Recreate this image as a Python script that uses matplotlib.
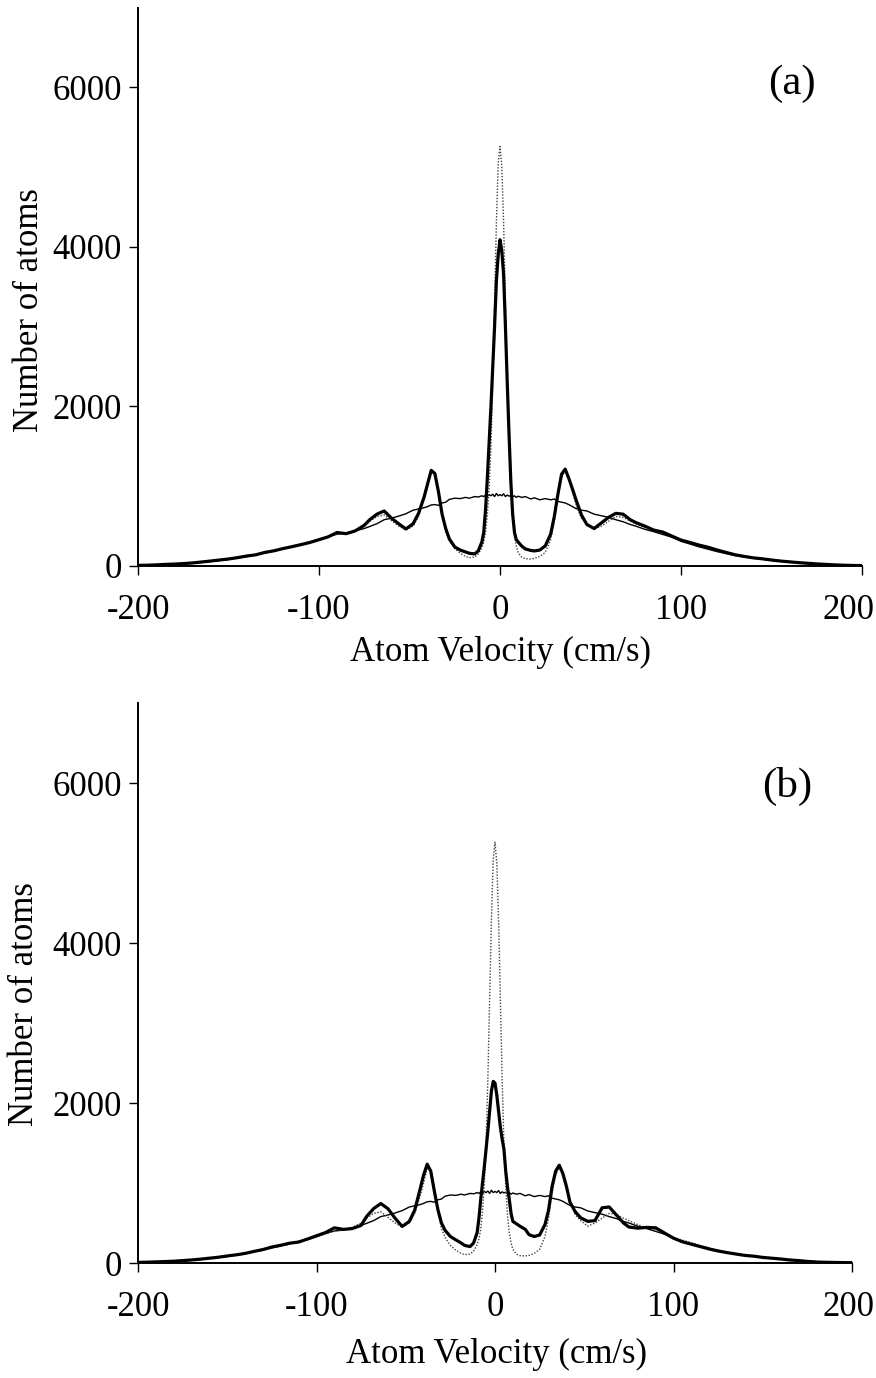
import numpy as np
import matplotlib
matplotlib.use("Agg")
import matplotlib.pyplot as plt
import matplotlib.transforms as mtransforms

# velocity grid (cm/s), finer around the peaks
velocity = [
    -200, -195, -190, -185, -180, -175, -170, -165, -160, -155, -150, -145, -140,
    -135, -130, -125, -120, -115, -110, -105, -100, -95, -90, -85, -80, -75,
    -72, -68, -64, -60, -56, -52, -48, -45, -42, -40, -38, -36, -34, -32, -30,
    -28, -25, -22, -19, -17,
    -14, -12, -10, -9, -8, -7, -6, -5, -4, -3, -2, -1, 0, 1, 2, 3, 4, 5, 6, 7,
    8, 9, 10, 12, 14,
    17, 19, 22, 25, 28, 30, 32, 34, 36, 38, 40, 42, 45, 48, 52, 56, 60, 64, 68, 72,
    75, 80, 85, 90, 95, 100, 105, 110, 115, 120, 125, 130, 135, 140, 145, 150,
    155, 160, 165, 170, 175, 180, 185, 190, 195, 200,
]

# thin line: broad distribution
thin = [
    5, 8, 12, 16, 20, 28, 35, 45, 58, 70, 82, 100, 118,
    140, 162, 190, 215, 240, 270, 300, 335, 370, 400, 415, 440, 470,
    495, 530, 580, 600, 625, 655, 700, 715, 730, 745, 765, 770, 760, 790, 800,
    835, 850, 845, 860, 850,
    870, 865, 880, 870, 890, 875, 895, 880, 900, 870, 910, 880, 895, 880, 905, 870,
    890, 875, 885, 865, 880, 860, 875, 860, 870,
    840, 855, 830, 845, 830, 840, 810, 800, 790, 770, 745, 720, 700, 690, 650, 630,
    610, 580, 555, 520,
    500, 460, 430, 395, 360, 310, 275, 240, 210, 180, 155, 130, 115, 98, 85, 70,
    60, 50, 40, 32, 25, 18, 14, 10, 7, 5,
]

# dotted line: narrow central peak
dotted = [
    6, 9, 12, 17, 22, 28, 36, 47, 58, 72, 85, 102, 120,
    138, 165, 188, 212, 238, 265, 292, 325, 365, 395, 410, 445, 500,
    560, 620, 640, 570, 500, 450, 500, 620, 830, 1000, 1180, 1150, 960, 640, 430,
    320, 220, 160, 120, 105,
    110, 150, 230, 300, 420, 640, 980, 1500, 2300, 3300, 4300, 5050, 5260, 5000,
    4300, 3300, 2300, 1500, 950, 600, 380, 250, 170, 110, 92,
    88, 95, 120, 170, 330, 560, 880, 1100, 1200, 1080, 930, 770, 600, 530, 460, 500,
    560, 620, 610, 560,
    530, 480, 440, 410, 370, 320, 285, 255, 220, 190, 160, 135, 115, 100, 85, 72,
    60, 50, 40, 32, 24, 18, 13, 9, 6, 4,
]

# thick line, panel (a)
thick_a = [
    8, 10, 14, 20, 24, 30, 38, 50, 62, 75, 88, 105, 125,
    140, 170, 190, 218, 242, 268, 295, 330, 365, 420, 405, 440, 510,
    580, 650, 690, 600, 530, 465, 530, 660, 860, 1030, 1199, 1160, 931, 650, 470,
    340, 239, 200, 176, 160,
    151, 190, 302, 420, 700, 1100, 1550, 2000, 2500, 3000, 3570, 3900, 4090, 3950,
    3650, 3000, 2300, 1650, 1050, 650, 420, 330, 302, 250, 214,
    195, 189, 200, 252, 400, 620, 900, 1150, 1215, 1100, 968, 830, 640, 520, 470, 540,
    610, 660, 650, 580,
    545, 500, 450, 425, 375, 325, 295, 262, 235, 200, 170, 140, 120, 102, 90, 75,
    62, 52, 42, 34, 26, 20, 14, 10, 7, 5,
]

# thick line, panel (b)
thick_b = [
    8, 10, 14, 18, 22, 30, 38, 48, 60, 72, 88, 102, 120,
    145, 168, 200, 222, 248, 262, 300, 340, 380, 440, 420, 430, 470,
    580, 680, 743, 680, 560, 457, 520, 660, 920, 1100, 1235, 1150, 900, 668, 500,
    410, 331, 290, 250, 220,
    205, 250, 380, 560, 794, 1000, 1200, 1424, 1650, 1900, 2150, 2270, 2250, 2100,
    1900, 1700, 1550, 1424, 1150, 950, 794, 620, 520, 490, 460,
    420, 355, 331, 350, 480, 660, 960, 1150, 1222, 1120, 960, 760, 640, 565, 520, 530,
    690, 700, 600, 500,
    450, 435, 445, 440, 375, 310, 265, 235, 205, 175, 150, 130, 112, 95, 85, 70,
    60, 50, 38, 30, 20, 12, 9, 7, 5, 4,
]

W, H = 876, 1378
plt.rcParams['font.family'] = ['Liberation Serif', 'DejaVu Serif']
plt.rcParams['axes.unicode_minus'] = False
fig = plt.figure(figsize=(W / 100, H / 100), dpi=100)


def draw_panel(rect, thick, tag, tag_xy, ylab_xy, xlab_xy, last_shift):
    ax = fig.add_axes(rect)
    ax.plot(velocity, thin, color='black', linewidth=1.0)
    ax.plot(velocity, dotted, color='#444444', linewidth=1.0, linestyle=(0, (1, 1.2)))
    ax.plot(velocity, thick, color='black', linewidth=2.3)
    ax.set_xlim(-200, 200)
    ax.set_ylim(0, 7000)
    ax.set_xticks([-200, -100, 0, 100, 200])
    ax.set_yticks([0, 2000, 4000, 6000])
    for side in ['top', 'right']:
        ax.spines[side].set_visible(False)
    for side in ['left', 'bottom']:
        ax.spines[side].set_linewidth(1.4)
    ax.tick_params(axis='both', direction='out', length=6.5, width=1.0, labelsize=25)
    ax.tick_params(axis='x', pad=14)
    ax.tick_params(axis='y', pad=5)
    # the rightmost "200" sits a bit left of its tick so it stays inside the page
    lbl = ax.get_xticklabels()[-1]
    lbl.set_transform(lbl.get_transform() +
                      mtransforms.ScaledTranslation(last_shift / 100, 0, fig.dpi_scale_trans))
    fig.text(tag_xy[0] / W, 1 - tag_xy[1] / H, tag, fontsize=31, ha='center', va='center')
    fig.text(ylab_xy[0] / W, 1 - ylab_xy[1] / H, 'Number of atoms', fontsize=25,
             rotation=90, ha='center', va='center')
    fig.text(xlab_xy[0] / W, 1 - xlab_xy[1] / H, 'Atom Velocity (cm/s)', fontsize=25,
             ha='center', va='center')
    return ax


draw_panel([138 / W, 1 - 566 / H, 724 / W, 558.4 / H], thick_a, '(a)',
           (792, 84), (30, 310), (500, 652), -14)
draw_panel([138 / W, 1 - 1263 / H, 714 / W, 560 / H], thick_b, '(b)',
           (787, 786), (25, 1004), (497, 1354), -4)

fig.savefig('out.png', dpi=100)
